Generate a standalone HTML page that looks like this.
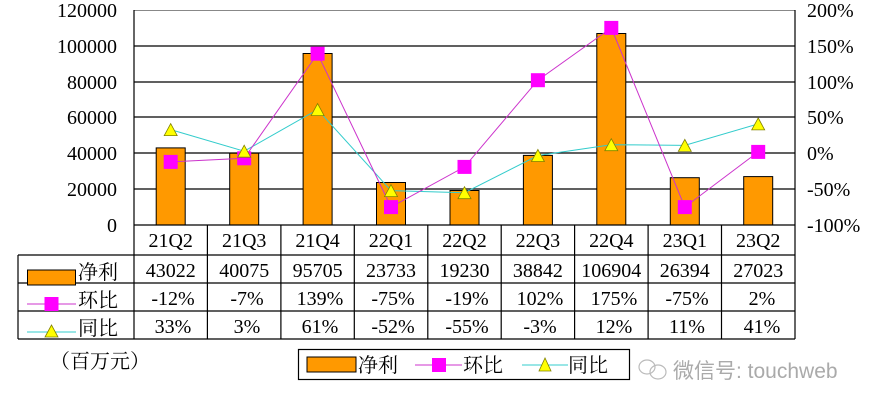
<!DOCTYPE html>
<html><head><meta charset="utf-8"><style>
html,body{margin:0;padding:0;background:#fff;}
svg{display:block;font-family:"Liberation Serif","Noto Serif CJK SC",serif;}
</style></head><body>
<svg width="877" height="409" viewBox="0 0 877 409" xmlns="http://www.w3.org/2000/svg">
<rect width="877" height="409" fill="#fff"/>
<!-- gridlines -->
<g stroke="#000" stroke-width="1.2">
<line x1="134" y1="46" x2="795" y2="46"/>
<line x1="134" y1="82" x2="795" y2="82"/>
<line x1="134" y1="117" x2="795" y2="117"/>
<line x1="134" y1="153" x2="795" y2="153"/>
<line x1="134" y1="189" x2="795" y2="189"/>
</g>
<line x1="134" y1="10.5" x2="795" y2="10.5" stroke="#888" stroke-width="1"/>
<line x1="134" y1="10" x2="134" y2="339" stroke="#000" stroke-width="1.2"/>
<line x1="795" y1="10" x2="795" y2="339" stroke="#000" stroke-width="1.2"/>
<!-- bars -->
<g fill="#FF9900" stroke="#000" stroke-width="1">
<rect x="156.2" y="147.9" width="29" height="77.1"/>
<rect x="229.7" y="153.2" width="29" height="71.8"/>
<rect x="303.1" y="53.5" width="29" height="171.5"/>
<rect x="376.5" y="182.5" width="29" height="42.5"/>
<rect x="450" y="190.5" width="29" height="34.5"/>
<rect x="523.4" y="155.4" width="29" height="69.6"/>
<rect x="596.8" y="33.5" width="29" height="191.5"/>
<rect x="670.3" y="177.7" width="29" height="47.3"/>
<rect x="743.7" y="176.6" width="29" height="48.4"/>
</g>
<!-- 同比 line -->
<polyline fill="none" stroke="#33CCCC" stroke-width="1" points="170.7,129.6 244.2,151.2 317.6,109.6 391,190.6 464.5,192.7 537.9,155.5 611.3,144.7 684.8,145.4 758.2,123.9"/>
<!-- 环比 line -->
<polyline fill="none" stroke="#CC33CC" stroke-width="1" points="170.7,161.9 244.2,158.3 317.6,53.7 391,207.1 464.5,166.9 537.9,80.2 611.3,27.9 684.8,207.1 758.2,151.9"/>
<!-- squares -->
<g fill="#FF00FF">
<rect x="163.7" y="154.9" width="14" height="14"/>
<rect x="237.2" y="151.3" width="14" height="14"/>
<rect x="310.6" y="46.7" width="14" height="14"/>
<rect x="384" y="200.1" width="14" height="14"/>
<rect x="457.5" y="159.9" width="14" height="14"/>
<rect x="530.9" y="73.2" width="14" height="14"/>
<rect x="604.3" y="20.9" width="14" height="14"/>
<rect x="677.8" y="200.1" width="14" height="14"/>
<rect x="751.2" y="144.9" width="14" height="14"/>
</g>
<!-- triangles -->
<g fill="#FFFF00" stroke="#808000" stroke-width="0.8">
<polygon points="170.7,123.6 164.2,135.6 177.2,135.6"/>
<polygon points="244.2,145.2 237.7,157.2 250.7,157.2"/>
<polygon points="317.6,103.6 311.1,115.6 324.1,115.6"/>
<polygon points="391,184.6 384.5,196.6 397.5,196.6"/>
<polygon points="464.5,186.7 458,198.7 471,198.7"/>
<polygon points="537.9,149.5 531.4,161.5 544.4,161.5"/>
<polygon points="611.3,138.7 604.8,150.7 617.8,150.7"/>
<polygon points="684.8,139.4 678.3,151.4 691.3,151.4"/>
<polygon points="758.2,117.9 751.7,129.9 764.7,129.9"/>
</g>
<!-- left axis labels -->
<g font-size="20" text-anchor="end" fill="#000">
<text x="117" y="17">120000</text>
<text x="117" y="53">100000</text>
<text x="117" y="89">80000</text>
<text x="117" y="124">60000</text>
<text x="117" y="160">40000</text>
<text x="117" y="196">20000</text>
<text x="117" y="232">0</text>
</g>
<g font-size="20" fill="#000">
<text x="807" y="17">200%</text>
<text x="807" y="53">150%</text>
<text x="807" y="89">100%</text>
<text x="807" y="124">50%</text>
<text x="807" y="160">0%</text>
<text x="807" y="196">-50%</text>
<text x="807" y="232">-100%</text>
</g>
<!-- table -->
<g stroke="#000" stroke-width="1.2" fill="none">
<line x1="134" y1="225" x2="795" y2="225"/>
<line x1="18" y1="255" x2="795" y2="255"/>
<line x1="18" y1="283" x2="795" y2="283"/>
<line x1="18" y1="311" x2="795" y2="311"/>
<line x1="18" y1="339" x2="795" y2="339"/>
<line x1="18" y1="255" x2="18" y2="339"/>
<line x1="207.4" y1="225" x2="207.4" y2="339"/>
<line x1="280.9" y1="225" x2="280.9" y2="339"/>
<line x1="354.3" y1="225" x2="354.3" y2="339"/>
<line x1="427.8" y1="225" x2="427.8" y2="339"/>
<line x1="501.2" y1="225" x2="501.2" y2="339"/>
<line x1="574.6" y1="225" x2="574.6" y2="339"/>
<line x1="648.1" y1="225" x2="648.1" y2="339"/>
<line x1="721.5" y1="225" x2="721.5" y2="339"/>
</g>
<g font-size="20" text-anchor="middle" fill="#000">
<text x="170.7" y="247">21Q2</text><text x="244.2" y="247">21Q3</text><text x="317.6" y="247">21Q4</text><text x="391" y="247">22Q1</text><text x="464.5" y="247">22Q2</text><text x="537.9" y="247">22Q3</text><text x="611.3" y="247">22Q4</text><text x="684.8" y="247">23Q1</text><text x="758.2" y="247">23Q2</text>
<text x="170.7" y="277">43022</text><text x="244.2" y="277">40075</text><text x="317.6" y="277">95705</text><text x="391" y="277">23733</text><text x="464.5" y="277">19230</text><text x="537.9" y="277">38842</text><text x="611.3" y="277">106904</text><text x="684.8" y="277">26394</text><text x="758.2" y="277">27023</text>
<text x="173" y="305">-12%</text><text x="247" y="305">-7%</text><text x="320" y="305">139%</text><text x="393" y="305">-75%</text><text x="467" y="305">-19%</text><text x="540" y="305">102%</text><text x="614" y="305">175%</text><text x="687" y="305">-75%</text><text x="762" y="305">2%</text>
<text x="173" y="333">33%</text><text x="247" y="333">3%</text><text x="320" y="333">61%</text><text x="393" y="333">-52%</text><text x="467" y="333">-55%</text><text x="540" y="333">-3%</text><text x="614" y="333">12%</text><text x="687" y="333">11%</text><text x="762" y="333">41%</text>
</g>
<!-- row legend keys -->
<rect x="27.5" y="270" width="48" height="15" fill="#FF9900" stroke="#000" stroke-width="1"/>
<line x1="27" y1="304" x2="76" y2="304" stroke="#CC33CC" stroke-width="1"/>
<rect x="44.5" y="297" width="14" height="14" fill="#FF00FF"/>
<line x1="27" y1="332" x2="76" y2="332" stroke="#33CCCC" stroke-width="1"/>
<polygon points="51.5,325 45,337 58,337" fill="#FFFF00" stroke="#808000" stroke-width="0.8"/>
<g font-size="20" fill="#000">
<text x="78" y="279">净利</text>
<text x="78" y="307">环比</text>
<text x="78" y="335">同比</text>
<text x="50" y="368">（百万元）</text>
</g>
<!-- bottom legend -->
<rect x="298.5" y="349.5" width="331" height="30" fill="#fff" stroke="#000" stroke-width="1.2"/>
<rect x="307" y="357" width="49" height="15" fill="#FF9900" stroke="#000" stroke-width="1"/>
<line x1="415" y1="365" x2="462" y2="365" stroke="#CC33CC" stroke-width="1"/>
<rect x="432" y="358" width="14" height="14" fill="#FF00FF"/>
<line x1="522" y1="365" x2="568" y2="365" stroke="#33CCCC" stroke-width="1"/>
<polygon points="545,358 539,371 551,371" fill="#FFFF00" stroke="#808000" stroke-width="0.8"/>
<g font-size="20" fill="#000">
<text x="358" y="372">净利</text>
<text x="463" y="372">环比</text>
<text x="568" y="372">同比</text>
</g>
<!-- watermark -->
<g stroke="#bbb" fill="none" stroke-width="1.2">
<ellipse cx="647" cy="367" rx="8" ry="7"/>
<ellipse cx="658" cy="372" rx="8" ry="7"/>
</g>
<text x="673" y="378" font-size="21" fill="#aaa" font-family="Liberation Sans,'Noto Sans CJK SC',sans-serif">微信号: touchweb</text>
</svg>
</body></html>
